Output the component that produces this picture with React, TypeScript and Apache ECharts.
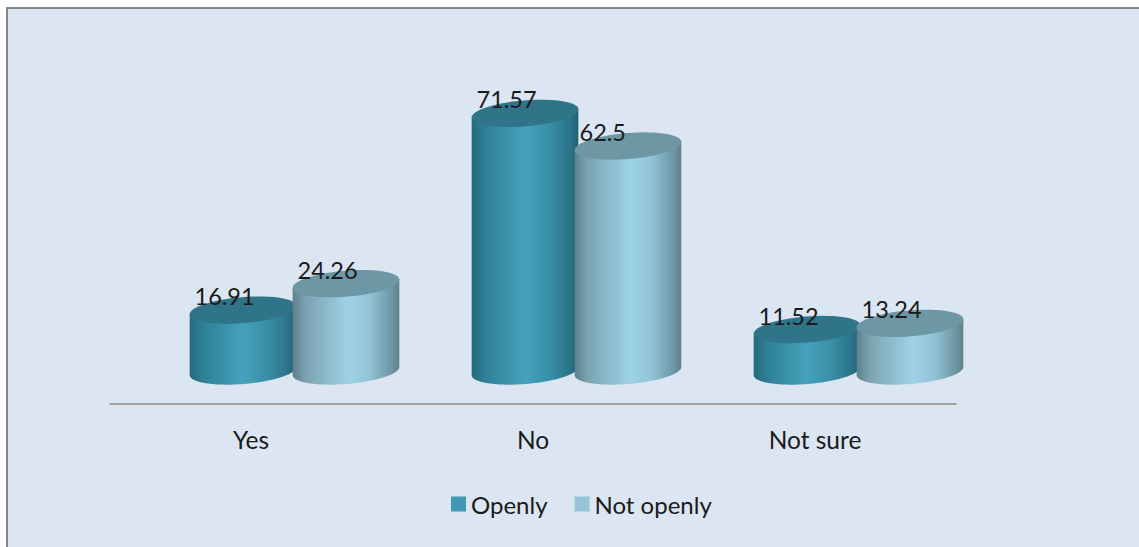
import React, { useEffect, useRef } from "react";
import * as echarts from "echarts";

const categories = ["Yes", "No", "Not sure"];
const openly = [16.91, 71.57, 11.52];
const notOpenly = [24.26, 62.5, 13.24];
const seriesNames = ["Openly", "Not openly"];

const FONT = "Lato";
const TEXT_COLOR = "#1a1a1a";
const RX = 53.5;
const RY = 13;
const TILT = (-4.7 * Math.PI) / 180;

type Shade = {
  swatch: string;
  cap: string;
  stops: [number, string][];
};

const openlyShade: Shade = {
  swatch: "#4198b2",
  cap: "#2f7488",
  stops: [
    [0, "#256a7d"],
    [0.12, "#2e7f95"],
    [0.5, "#45a2bc"],
    [0.72, "#3a90a8"],
    [0.92, "#2b7489"],
    [1, "#235f70"],
  ],
};

const notOpenlyShade: Shade = {
  swatch: "#95c4d6",
  cap: "#6d97a5",
  stops: [
    [0, "#5d7f8b"],
    [0.12, "#7ba3b1"],
    [0.52, "#9dd2e6"],
    [0.72, "#93c3d6"],
    [0.92, "#6f98a6"],
    [1, "#5f808b"],
  ],
};

// Point on the tilted ellipse centred at (cx, cy), for parameter t in radians.
function ellipsePoint(cx: number, cy: number, t: number): [number, number] {
  const ex = RX * Math.cos(t);
  const ey = RY * Math.sin(t);
  return [
    cx + ex * Math.cos(TILT) - ey * Math.sin(TILT),
    cy + ex * Math.sin(TILT) + ey * Math.cos(TILT),
  ];
}

// Samples the parameter range [from, to] of the ellipse into polygon vertices.
function ellipseArc(cx: number, cy: number, from: number, to: number) {
  const steps = 60;
  const points: [number, number][] = [];
  for (let i = 0; i <= steps; i++) {
    points.push(ellipsePoint(cx, cy, from + ((to - from) * i) / steps));
  }
  return points;
}

// Draws one cylinder per category: a shaded body plus a tilted elliptical cap.
function cylinderRenderer(shade: Shade, offset: number) {
  const fill = new echarts.graphic.LinearGradient(
    0,
    0,
    1,
    0,
    shade.stops.map(([o, color]) => ({ offset: o, color }))
  );
  return (_params: any, api: any) => {
    const category = api.value(0);
    const value = api.value(1);
    const [catX, baseY] = api.coord([category, 0]);
    const [, topY] = api.coord([category, value]);
    const cx = catX + offset;
    // Bottom rim runs from the right corner through the front to the left corner.
    const rim = ellipseArc(cx, baseY, 0, Math.PI);
    const bodyPoints = [
      ellipsePoint(cx, topY, 0),
      ...rim,
      ellipsePoint(cx, topY, Math.PI),
    ];
    return {
      type: "group",
      children: [
        { type: "polygon", shape: { points: bodyPoints }, style: { fill } },
        {
          type: "polygon",
          shape: { points: ellipseArc(cx, topY, 0, Math.PI * 2) },
          style: { fill: shade.cap },
        },
        {
          type: "text",
          z2: 10,
          style: {
            text: String(value),
            x: cx - RX + 5,
            y: topY - 14,
            fill: TEXT_COLOR,
            fontFamily: FONT,
            fontSize: 23.5,
            align: "left",
            verticalAlign: "middle",
          },
        },
      ],
    };
  };
}

function seriesData(values: number[]) {
  return values.map((v, i) => [i, v]);
}

export default function App() {
  const ref = useRef<HTMLDivElement>(null);

  useEffect(() => {
    if (!ref.current) return;
    const chart = echarts.init(ref.current, undefined, { renderer: "svg" });
    chart.setOption({
      animation: false,
      backgroundColor: "transparent",
      grid: { left: 110, top: 83, width: 846, height: 288 },
      xAxis: {
        type: "category",
        data: categories,
        offset: 33,
        axisLine: { onZero: false, lineStyle: { color: "#a3a3a3", width: 2 } },
        axisTick: { show: false },
        axisLabel: {
          color: TEXT_COLOR,
          fontFamily: FONT,
          fontSize: 24.5,
          margin: 23,
        },
      },
      yAxis: { type: "value", min: 0, max: 80, show: false },
      legend: {
        data: seriesNames,
        left: 446,
        top: 487,
        icon: "rect",
        itemWidth: 15,
        itemHeight: 15,
        itemGap: 27,
        textStyle: { color: TEXT_COLOR, fontFamily: FONT, fontSize: 24 },
      },
      series: [
        {
          type: "custom",
          name: seriesNames[0],
          coordinateSystem: "cartesian2d",
          itemStyle: { color: openlyShade.swatch },
          encode: { x: 0, y: 1 },
          data: seriesData(openly),
          renderItem: cylinderRenderer(openlyShade, -8),
          clip: false,
        },
        {
          type: "custom",
          name: seriesNames[1],
          coordinateSystem: "cartesian2d",
          itemStyle: { color: notOpenlyShade.swatch },
          encode: { x: 0, y: 1 },
          data: seriesData(notOpenly),
          renderItem: cylinderRenderer(notOpenlyShade, 95),
          clip: false,
        },
      ],
    });
    return () => chart.dispose();
  }, []);

  return (
    <div style={{ position: "fixed", left: 0, top: 0, width: 1139, height: 547, background: "#ffffff", overflow: "hidden" }}>
      <div
        style={{
          position: "absolute",
          left: 6,
          top: 7,
          right: 0,
          bottom: 0,
          background: "#dce6f2",
          borderLeft: "2px solid #868686",
          borderTop: "2px solid #868686",
        }}
      />
      <div ref={ref} style={{ position: "absolute", left: 0, top: 0, width: 1139, height: 547 }} />
    </div>
  );
}
